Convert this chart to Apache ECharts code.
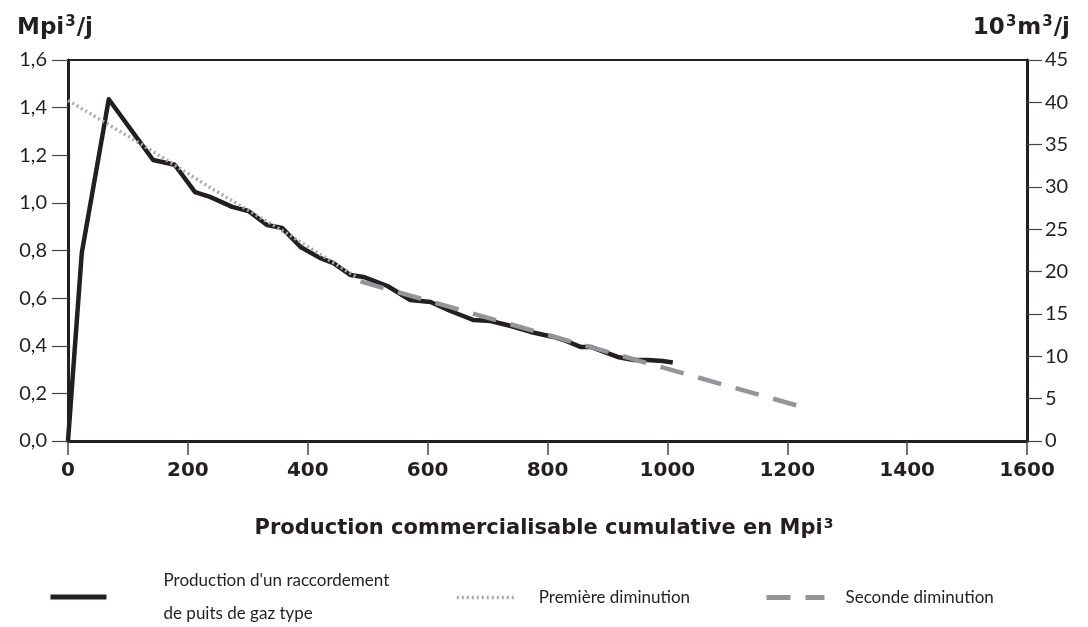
<!DOCTYPE html>
<html>
<head>
<meta charset="utf-8">
<script src="https://cdn.jsdelivr.net/npm/echarts@6/dist/echarts.min.js"></script>
<style>
    html, body { margin: 0; padding: 0; background: #fff; }
    #chart { width: 1088px; height: 627px; }
</style>
</head>
<body>
<div id="chart"></div>
<script>
    // production d'un raccordement type (x = Mpi3 cumulatif, y = Mpi3/j)
    const prodX = [0, 23, 68, 142, 178, 212, 237, 274, 301, 332, 357, 388, 421, 443, 471, 493, 533, 571, 605, 638, 655, 677, 705, 739, 772, 810, 827, 855, 872, 917, 944, 967, 992, 1009];
    const prodY = [0, 0.79, 1.435, 1.18, 1.16, 1.045, 1.025, 0.983, 0.966, 0.907, 0.895, 0.815, 0.768, 0.747, 0.697, 0.689, 0.651, 0.592, 0.584, 0.546, 0.529, 0.508, 0.504, 0.483, 0.458, 0.437, 0.424, 0.395, 0.395, 0.353, 0.34, 0.34, 0.336, 0.33];
    // premiere diminution
    const decl1X = [0, 120, 240, 360, 480];
    const decl1Y = [1.43, 1.25, 1.06, 0.88, 0.69];
    // seconde diminution
    const decl2X = [488, 850, 1215];
    const decl2Y = [0.67, 0.41, 0.15];

    const xTicks = [0, 200, 400, 600, 800, 1000, 1200, 1400, 1600];
    const leftTicks = [0, 0.2, 0.4, 0.6, 0.8, 1.0, 1.2, 1.4, 1.6];
    const rightTicks = [0, 5, 10, 15, 20, 25, 30, 35, 40, 45];

    const seriesNames = ["Production d'un raccordement\nde puits de gaz type", 'Première diminution', 'Seconde diminution'];

    const FONT = 'Lato';
    const BOLD = 'DejaVu Sans';
    const INK = '#231f20';

    function pairs(xs, ys) {
        return xs.map((x, i) => [x, ys[i]]);
    }

    const supRich = {
        b: { fontFamily: BOLD, fontWeight: 'bold', fontSize: 23, color: INK },
        s: { fontFamily: BOLD, fontWeight: 'bold', fontSize: 15, color: INK, verticalAlign: 'top', padding: [0, 1, 12, 1] }
    };

    let myChart = echarts.init(document.getElementById('chart'));
    let option = {
        animation: false,
        title: [{
            text: '{b|Mpi}{s|3}{b|/j}',
            left: 12, top: 10,
            textStyle: { rich: supRich }
        }, {
            text: '{b|10}{s|3}{b|m}{s|3}{b|/j}',
            right: 13, top: 10,
            textStyle: { rich: supRich }
        }, {
            text: '{b|Production commercialisable cumulative en Mpi}{s|3}',
            left: 'center', top: 512,
            textStyle: { rich: {
                b: { fontFamily: BOLD, fontWeight: 'bold', fontSize: 21, color: INK },
                s: { fontFamily: BOLD, fontWeight: 'bold', fontSize: 14, color: INK, verticalAlign: 'top', padding: [0, 0, 10, 1] }
            } }
        }],
        grid: {
            left: 68, right: 61, top: 60, bottom: 186,
            show: true,
            borderColor: INK,
            borderWidth: 2
        },
        legend: [{
            data: [seriesNames[0]],
            left: 48, top: 564, padding: 0,
            itemWidth: 56, itemHeight: 14,
            itemStyle: { opacity: 0 },
            lineStyle: { width: 5 },
            textStyle: { fontFamily: FONT, fontSize: 17, color: INK, lineHeight: 33, padding: [0, 0, 0, 52] }
        }, {
            data: [seriesNames[1]],
            left: 455, top: 589, padding: 0,
            itemWidth: 58, itemHeight: 14,
            itemStyle: { opacity: 0 },
            lineStyle: { width: 3.5 },
            textStyle: { fontFamily: FONT, fontSize: 17, color: INK, padding: [0, 0, 0, 19] }
        }, {
            data: [seriesNames[2]],
            left: 764, top: 589, padding: 0,
            itemWidth: 58, itemHeight: 14,
            itemStyle: { opacity: 0 },
            lineStyle: { width: 5 },
            textStyle: { fontFamily: FONT, fontSize: 17, color: INK, padding: [0, 0, 0, 16] }
        }],
        xAxis: {
            type: 'value',
            min: 0, max: 1600, interval: 200,
            axisLine: { show: true, lineStyle: { color: INK, width: 3 } },
            axisTick: { show: true, length: 14, lineStyle: { color: '#444', width: 1.5 } },
            axisLabel: {
                margin: 20,
                fontFamily: BOLD, fontWeight: 'bold', fontSize: 20, color: INK,
                formatter: v => String(v)
            },
            splitLine: { show: false }
        },
        yAxis: [{
            type: 'value',
            position: 'left',
            min: 0, max: 1.6, interval: 0.2,
            axisLine: { show: true, lineStyle: { color: INK, width: 3 } },
            axisTick: { show: true, length: 16, lineStyle: { color: '#444', width: 1.2 } },
            axisLabel: {
                margin: 21,
                fontFamily: FONT, fontSize: 20, color: INK,
                formatter: v => v.toFixed(1).replace('.', ',')
            },
            splitLine: { show: false }
        }, {
            type: 'value',
            position: 'right',
            min: 0, max: 45, interval: 5,
            axisLine: { show: true, lineStyle: { color: INK, width: 3 } },
            axisTick: { show: true, length: 15, lineStyle: { color: '#444', width: 1.2 } },
            axisLabel: {
                margin: 18,
                fontFamily: FONT, fontSize: 20, color: INK
            },
            splitLine: { show: false }
        }],
        series: [{
            name: seriesNames[2],
            type: 'line',
            data: pairs(decl2X, decl2Y),
            symbol: 'none',
            z: 3,
            lineStyle: { color: '#939598', width: 4.5, type: [24, 15] }
        }, {
            name: seriesNames[0],
            type: 'line',
            data: pairs(prodX, prodY),
            symbol: 'none',
            z: 2,
            lineStyle: { color: INK, width: 4.5, join: 'round' }
        }, {
            name: seriesNames[1],
            type: 'line',
            data: pairs(decl1X, decl1Y),
            symbol: 'none',
            z: 3,
            lineStyle: { color: '#a7a9ac', width: 3.5, type: [2, 3] }
        }]
    };
    myChart.setOption(option, true);
    window.addEventListener('resize', () => { myChart.resize(); });
</script>
</body>
</html>
